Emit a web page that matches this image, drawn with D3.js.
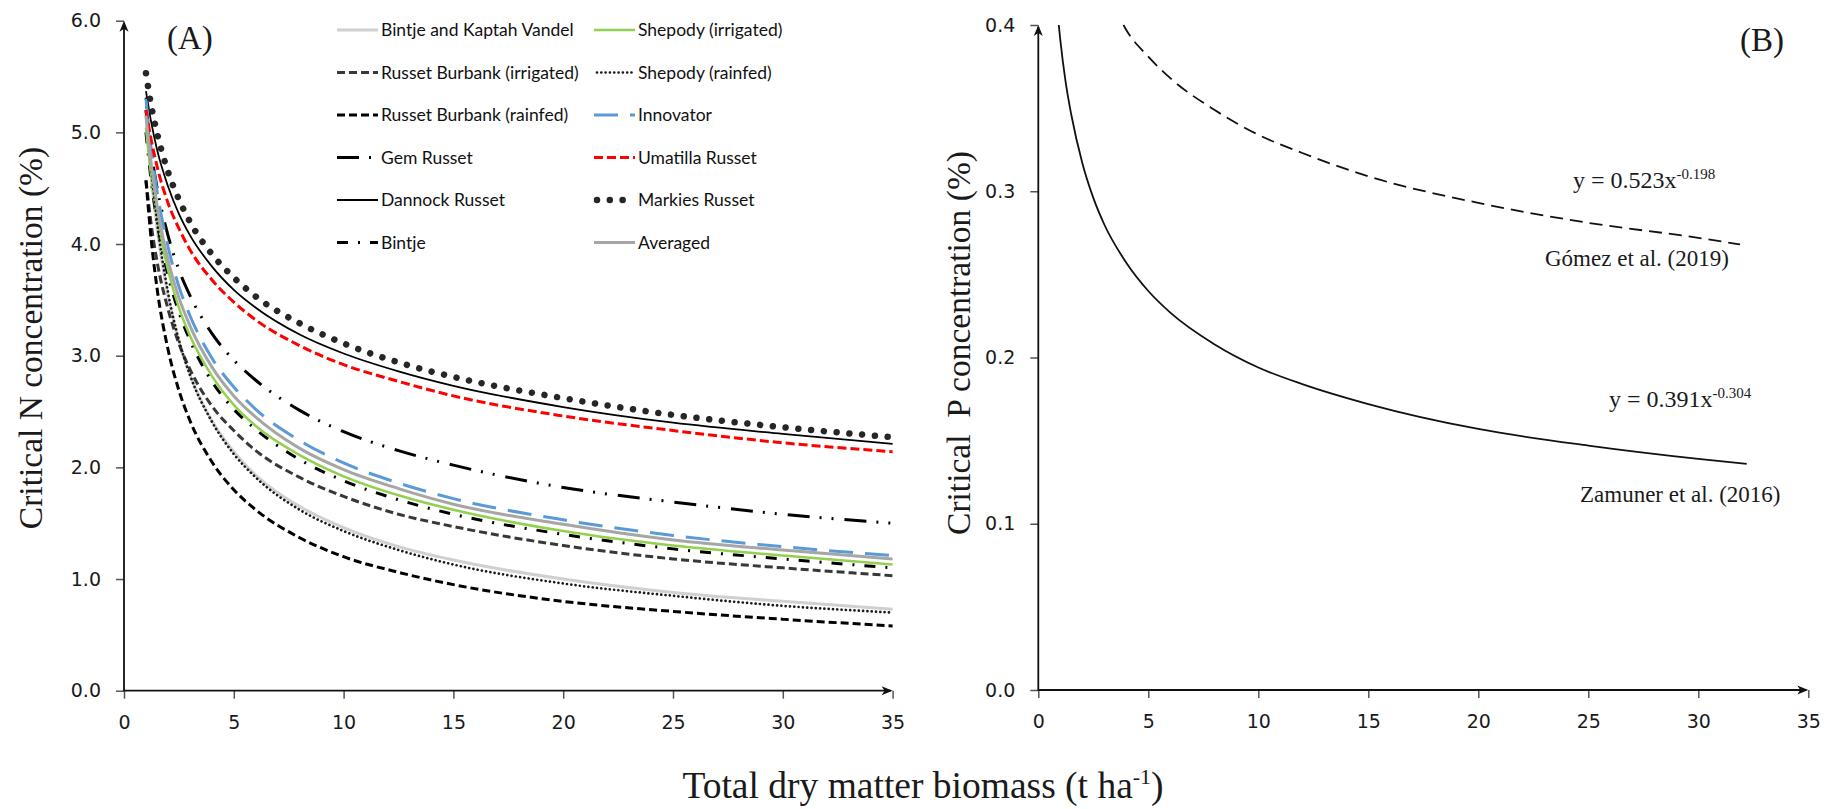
<!DOCTYPE html>
<html><head><meta charset="utf-8">
<script src="https://cdn.jsdelivr.net/npm/d3@7"></script>
<style>body{margin:0;background:#fff} svg{display:block}</style>
</head><body><svg id="c" width="1827" height="809"></svg>
<script>
// ---------- Panel A data: critical N concentration (%) vs biomass (t/ha) ----------
const xBiomassA = [1,1.25,1.5,2,2.5,3,4,5,6,8,10,12.5,15,20,25,30,35];
const nBintjeKaptahVandel = [5.18,4.58,4.15,3.54,3.13,2.83,2.42,2.14,1.93,1.65,1.46,1.29,1.17,1.00,0.88,0.80,0.73];
const nRussetBurbankIrr  = [4.57,4.16,3.85,3.42,3.11,2.88,2.55,2.33,2.15,1.91,1.74,1.58,1.47,1.30,1.18,1.10,1.03];
const nRussetBurbankRain = [4.57,4.02,3.61,3.06,2.69,2.42,2.05,1.80,1.62,1.37,1.20,1.06,0.95,0.80,0.71,0.64,0.58];
const nGemRusset         = [5.20,4.81,4.51,4.08,3.77,3.54,3.20,2.96,2.78,2.51,2.32,2.15,2.02,1.82,1.69,1.58,1.50];
const nDannockRusset     = [5.37,5.08,4.85,4.52,4.27,4.08,3.80,3.59,3.43,3.19,3.02,2.86,2.73,2.54,2.40,2.30,2.21];
const nBintje            = [5.00,4.55,4.21,3.72,3.39,3.14,2.77,2.52,2.34,2.07,1.88,1.71,1.58,1.40,1.27,1.18,1.10];
const nShepodyIrr        = [5.04,4.59,4.25,3.77,3.43,3.18,2.82,2.56,2.37,2.11,1.92,1.75,1.62,1.43,1.30,1.21,1.13];
const nShepodyRain       = [5.30,4.67,4.21,3.57,3.14,2.83,2.41,2.12,1.91,1.62,1.43,1.26,1.13,0.96,0.85,0.76,0.70];
const nInnovator         = [5.30,4.83,4.48,3.98,3.62,3.36,2.98,2.72,2.52,2.24,2.04,1.86,1.72,1.53,1.39,1.29,1.21];
const nUmatillaRusset    = [5.20,4.92,4.70,4.37,4.14,3.95,3.68,3.48,3.32,3.09,2.92,2.77,2.64,2.46,2.33,2.22,2.14];
const nMarkiesRusset     = [5.53,5.23,5.00,4.65,4.40,4.20,3.91,3.70,3.53,3.29,3.11,2.94,2.81,2.62,2.47,2.36,2.27];
const nAveraged          = [5.15,4.70,4.35,3.86,3.52,3.27,2.90,2.64,2.45,2.17,1.98,1.81,1.67,1.49,1.35,1.26,1.18];

const seriesNamesA = ["Bintje and Kaptah Vandel","Russet Burbank (irrigated)","Russet Burbank (rainfed)","Gem Russet","Dannock Russet","Bintje",
                      "Shepody (irrigated)","Shepody (rainfed)","Innovator","Umatilla Russet","Markies Russet","Averaged"];
const seriesValuesA = [nBintjeKaptahVandel,nRussetBurbankIrr,nRussetBurbankRain,nGemRusset,nDannockRusset,nBintje,
                       nShepodyIrr,nShepodyRain,nInnovator,nUmatillaRusset,nMarkiesRusset,nAveraged];

// ---------- Panel B data: critical P concentration (%) ----------
const xZamuner = [0.93,1,1.25,1.5,2,2.5,3,4,5,6,8,10,12,15,20,25,30,32.2];
const pZamuner = [0.400,0.391,0.365,0.346,0.317,0.296,0.280,0.257,0.240,0.227,0.208,0.194,0.184,0.172,0.157,0.147,0.139,0.136];
const xGomez = [3.87,4,5,6,8,10,12,15,20,25,30,31.9];
const pGomez = [0.400,0.397,0.381,0.368,0.349,0.334,0.323,0.309,0.293,0.281,0.272,0.268];

const xTickValues = [0,5,10,15,20,25,30,35];
const yTickValuesA = [0,1,2,3,4,5,6];
const yTickValuesB = [0,0.1,0.2,0.3,0.4];

// ---------- styles ----------
const stylesA = [
  {color:"#d0d0d0", width:3,   dash:null},
  {color:"#383838", width:3,   dash:"8,4"},
  {color:"#000",    width:3,   dash:"8,4"},
  {color:"#000",    width:3,   dash:"22,10,2,10,2,11"},
  {color:"#000",    width:1.8, dash:null},
  {color:"#000",    width:3,   dash:"11,10,2,10"},
  {color:"#92d050", width:2.5, dash:null},
  {color:"#1a1a1a", width:2.7, dash:"0.01,4.3", cap:"round"},
  {color:"#5b9bd5", width:3,   dash:"24,12"},
  {color:"#ff0000", width:3,   dash:"9,4"},
  {color:"#262626", width:6.5, dash:"0.01,12.8", cap:"round"},
  {color:"#a6a6a6", width:3,   dash:null}
];

const svg = d3.select('#c');
svg.append('rect').attr('width',1827).attr('height',809).attr('fill','#fff');

const xA = d3.scaleLinear().domain([0,35]).range([124,892.6]);
const yA = d3.scaleLinear().domain([0,6]).range([690.7,20.7]);
const xB = d3.scaleLinear().domain([0,35]).range([1038.3,1808.3]);
const yB = d3.scaleLinear().domain([0,0.4]).range([690,25]);

function axes(x, y, yTicks, fmt) {
  const gx = svg.append('g').attr('transform',`translate(0,${y(0)})`)
    .call(d3.axisBottom(x).tickValues(xTickValues).tickSize(8).tickPadding(17).tickSizeOuter(0));
  const gy = svg.append('g').attr('transform',`translate(${x(0)},0)`)
    .call(d3.axisLeft(y).tickValues(yTicks).tickFormat(fmt).tickSize(8).tickPadding(15).tickSizeOuter(0));
  [gx,gy].forEach(g=>{
    g.select('.domain').remove();
    g.selectAll('.tick line').attr('stroke','#555').attr('stroke-width',1.5);
    g.selectAll('.tick text').attr('font-family','DejaVu Sans').attr('font-size',19).attr('fill','#1a1a1a');
  });
  const x0=x(0), y0=y(0), x1=x.range()[1], y1=y.range()[1];
  svg.append('path').attr('d',`M${x0},${y1+2}V${y0}H${x1-2}`).attr('fill','none').attr('stroke','#111').attr('stroke-width',1.8);
  svg.append('path').attr('d',`M${x0},${y1} L${x0-4.5},${y1+11} L${x0},${y1+8} L${x0+4.5},${y1+11} Z`).attr('fill','#111');
  svg.append('path').attr('d',`M${x1},${y0} L${x1-11},${y0-4.5} L${x1-8},${y0} L${x1-11},${y0+4.5} Z`).attr('fill','#111');
}
axes(xA, yA, yTickValuesA, d3.format('.1f'));
axes(xB, yB, yTickValuesB, d3.format('.1f'));

// ---------- Panel A curves ----------
const lineA = d3.line().x((d,i)=>xA(xBiomassA[i])).y(d=>yA(d)).curve(d3.curveMonotoneX);
const gA = svg.append('g');
seriesValuesA.forEach((vals,k)=>{
  const s = stylesA[k];
  gA.append('path').attr('d',lineA(vals)).attr('fill','none')
    .attr('stroke',s.color).attr('stroke-width',s.width)
    .attr('stroke-dasharray',s.dash).attr('stroke-linecap',s.cap||'butt');
});

// ---------- Legend ----------
const legX = [337,594], legY0 = 30, legDY = 42.5;
seriesNamesA.forEach((name,k)=>{
  const col = Math.floor(k/6), row = k%6, s = stylesA[k];
  const lx = legX[col], ly = legY0 + row*legDY;
  svg.append('path').attr('d',`M${lx+(s.cap?3:0)},${ly}H${lx+41}`).attr('fill','none')
    .attr('stroke',s.color).attr('stroke-width',s.width)
    .attr('stroke-dasharray',s.dash).attr('stroke-linecap',s.cap||'butt');
  svg.append('text').attr('x',lx+44).attr('y',ly+6.3).text(name)
    .attr('font-family','Lato').attr('font-size',17.5).attr('fill','#111');
});

// ---------- Panel B curves ----------
const lineZ = d3.line().x((d,i)=>xB(xZamuner[i])).y(d=>yB(d)).curve(d3.curveMonotoneX);
const lineG = d3.line().x((d,i)=>xB(xGomez[i])).y(d=>yB(d)).curve(d3.curveMonotoneX);
svg.append('path').attr('d',lineZ(pZamuner)).attr('fill','none').attr('stroke','#111').attr('stroke-width',1.8);
svg.append('path').attr('d',lineG(pGomez)).attr('fill','none').attr('stroke','#111').attr('stroke-width',1.8).attr('stroke-dasharray','13,7');

// ---------- Texts ----------
const serif = 'Liberation Serif';
function txt(x,y,t,size,anchor){ return svg.append('text').attr('x',x).attr('y',y).text(t)
  .attr('font-family',serif).attr('font-size',size).attr('fill','#1a1a1a').attr('text-anchor',anchor||'start'); }
txt(167,49,'(A)',33);
txt(1740,51,'(B)',33);
svg.append('text').attr('transform','translate(42,338) rotate(-90)').attr('text-anchor','middle')
  .attr('font-family',serif).attr('font-size',33.5).attr('fill','#1a1a1a').text('Critical N concentration (%)');
svg.append('text').attr('transform','translate(970,343) rotate(-90)').attr('text-anchor','middle')
  .attr('font-family',serif).attr('font-size',33.5).attr('fill','#1a1a1a').style('white-space','pre')
  .text('Critical  P concentration (%)');

const xt = svg.append('text').attr('x',923).attr('y',798).attr('text-anchor','middle')
  .attr('font-family',serif).attr('font-size',37.5).attr('fill','#1a1a1a');
xt.append('tspan').text('Total dry matter biomass (t ha');
xt.append('tspan').text('-1').attr('font-size',22).attr('dy',-14);
xt.append('tspan').text(')').attr('dy',14);

function eq(x,y,main,sup){
  const t = svg.append('text').attr('x',x).attr('y',y).attr('font-family',serif).attr('font-size',24).attr('fill','#1a1a1a');
  t.append('tspan').text(main);
  t.append('tspan').text(sup).attr('font-size',15).attr('dy',-9);
}
eq(1573,188,'y = 0.523x','-0.198');
txt(1545,266,'Gómez et al. (2019)',23);
eq(1609,407,'y = 0.391x','-0.304');
txt(1580,502,'Zamuner et al. (2016)',23);
</script></body></html>
